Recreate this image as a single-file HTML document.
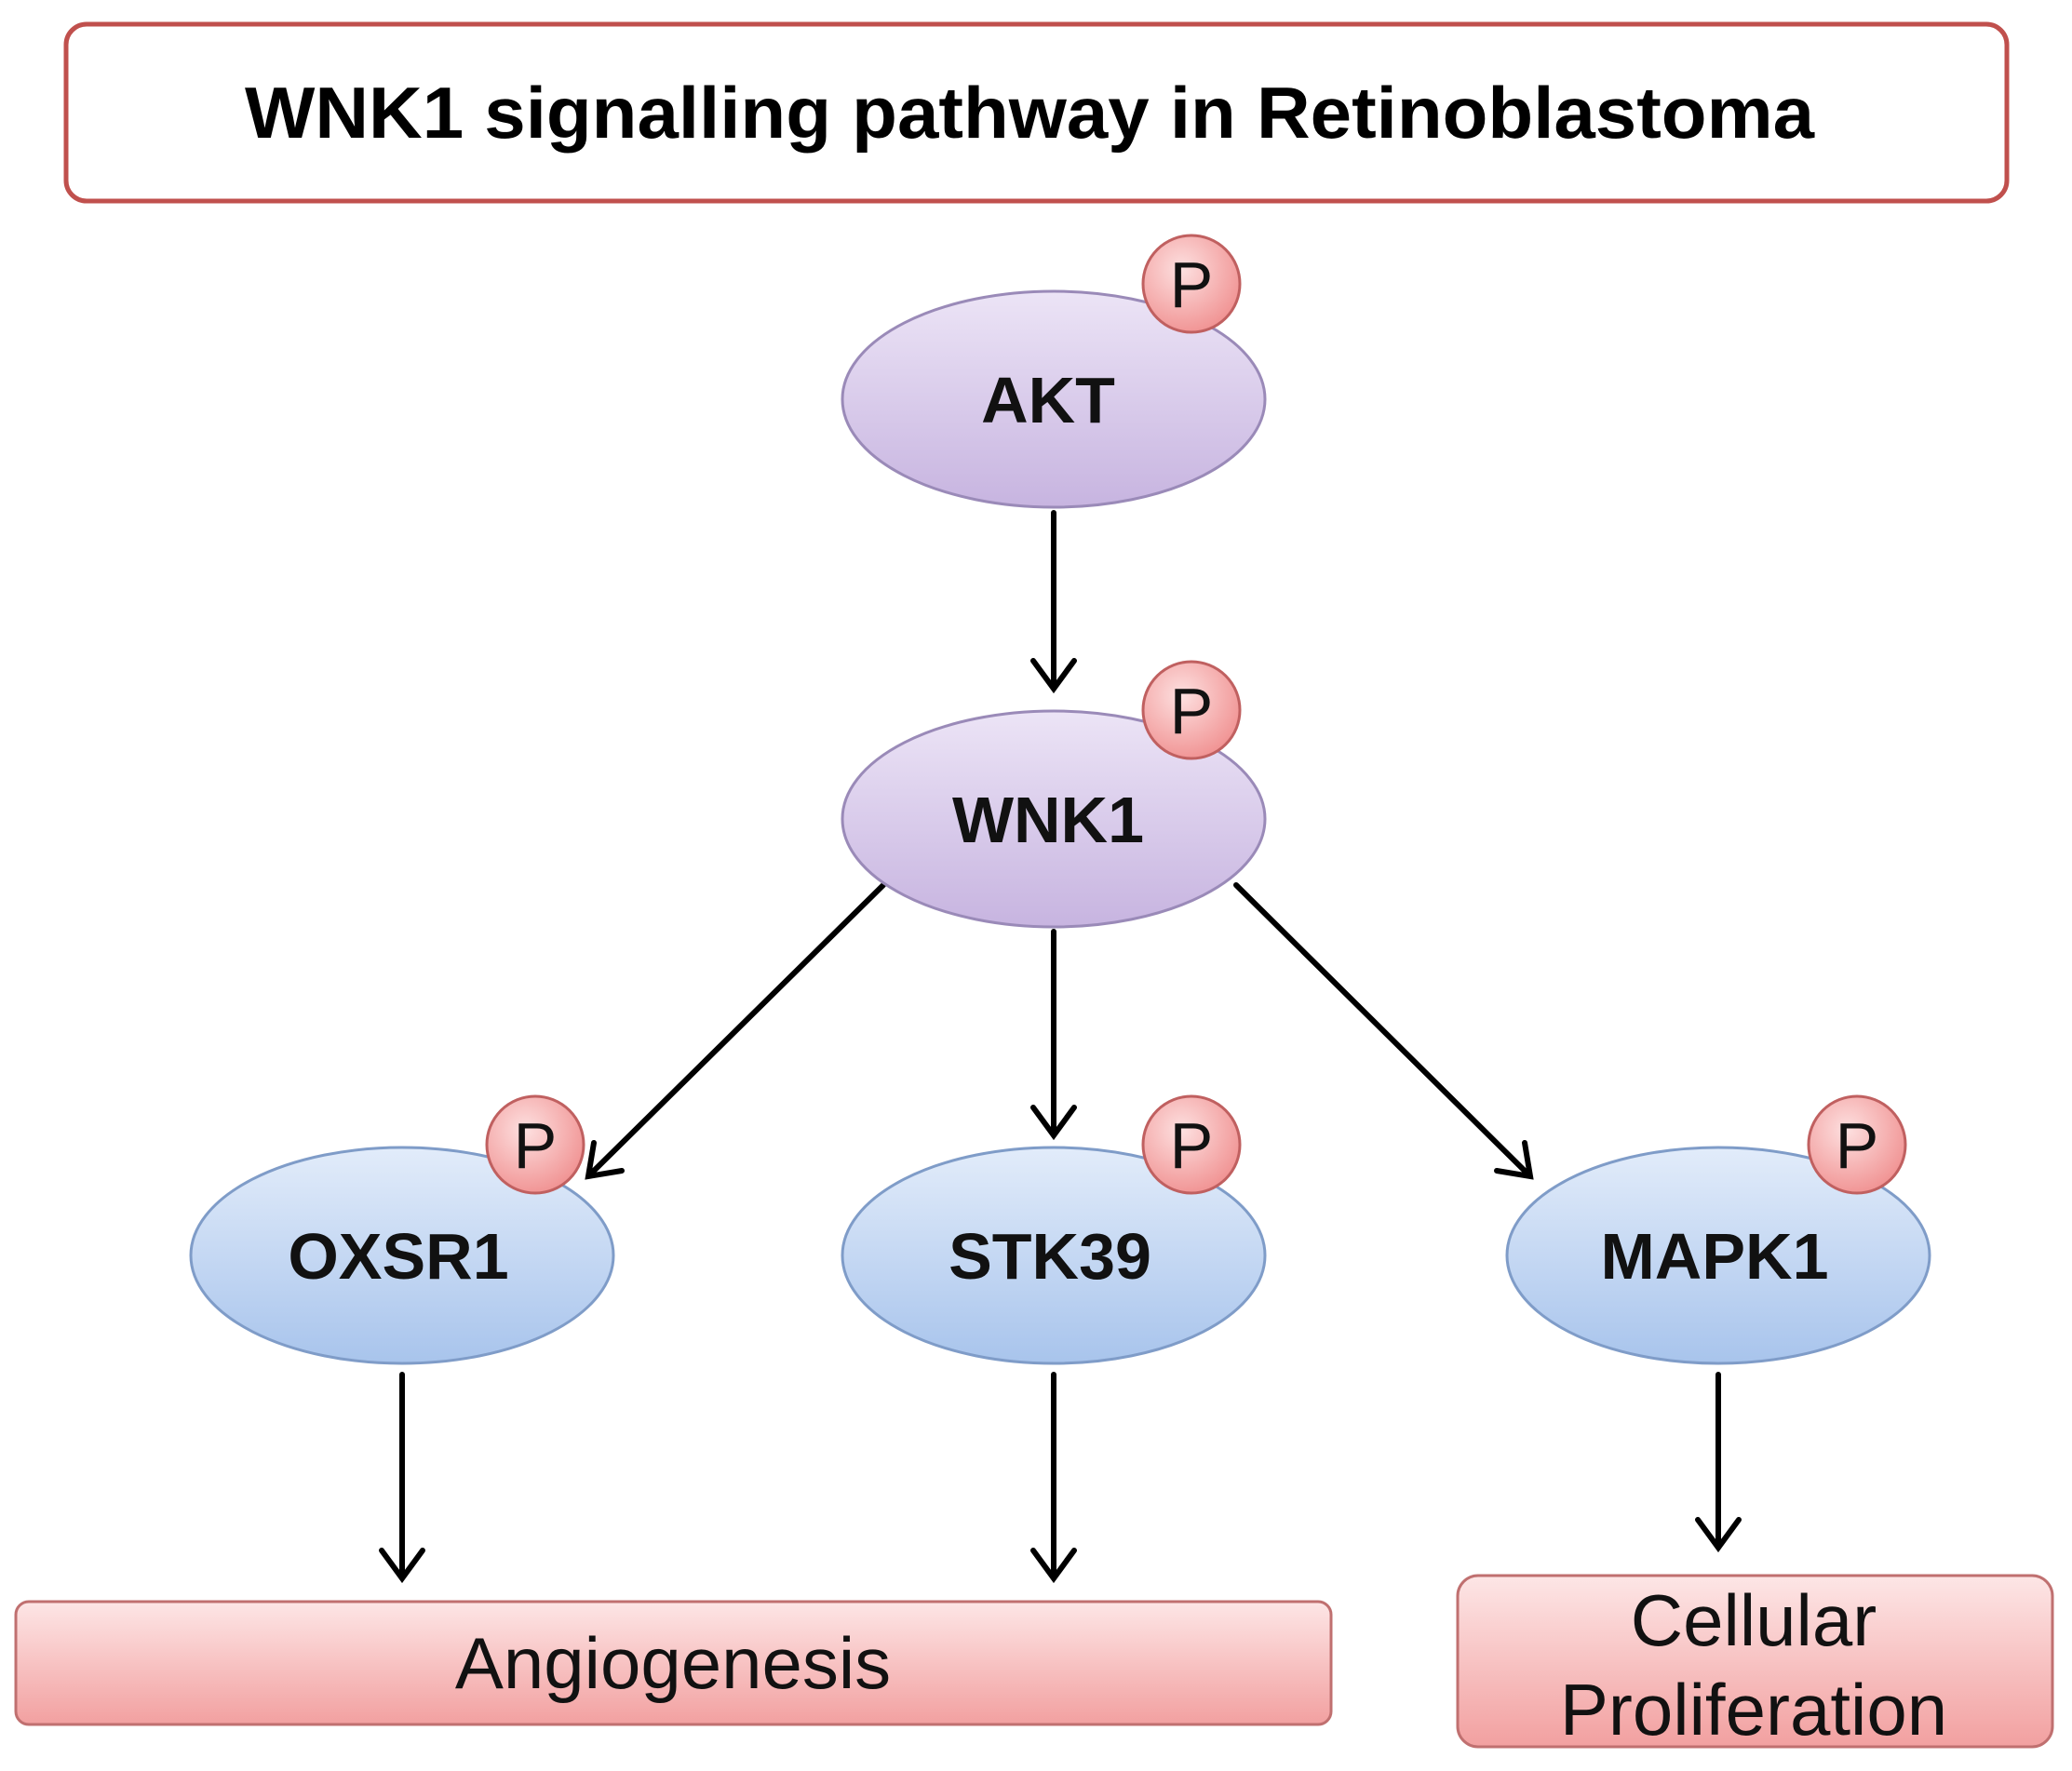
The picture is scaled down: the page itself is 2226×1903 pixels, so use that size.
<!DOCTYPE html>
<html><head><meta charset="utf-8"><style>body{margin:0;background:#fff}svg{display:block}</style></head><body>
<svg width="2226" height="1903" viewBox="0 0 2226 1903" xmlns="http://www.w3.org/2000/svg" font-family="Liberation Sans, Arial, sans-serif">
<defs>
<linearGradient id="pu" x1="0" y1="0" x2="0" y2="1"><stop offset="0" stop-color="#ece4f6"/><stop offset="1" stop-color="#c7b4e0"/></linearGradient>
<linearGradient id="bl" x1="0" y1="0" x2="0" y2="1"><stop offset="0" stop-color="#e2ecfa"/><stop offset="1" stop-color="#a8c4ec"/></linearGradient>
<linearGradient id="pk" x1="0" y1="0" x2="0" y2="1"><stop offset="0" stop-color="#fde6e6"/><stop offset="1" stop-color="#f2a0a0"/></linearGradient>
<radialGradient id="pc" cx="0.4" cy="0.35" r="0.7"><stop offset="0" stop-color="#fde0e0"/><stop offset="1" stop-color="#f09090"/></radialGradient>
</defs>
<rect x="71" y="26" width="2085" height="190" rx="22" fill="#fff" stroke="#c0504d" stroke-width="5"/>
<text x="263" y="148" font-size="78" font-weight="bold" textLength="1686" lengthAdjust="spacingAndGlyphs">WNK1 signalling pathway in Retinoblastoma</text>

<g stroke="#000" stroke-width="6" fill="none" stroke-linecap="round">
<line x1="1132" y1="551" x2="1132" y2="738"/><polyline points="1110,710 1132,740 1154,710"/>
<line x1="949" y1="951" x2="634" y2="1262"/><polyline points="638,1228 632,1264 668,1258"/>
<line x1="1132" y1="1001" x2="1132" y2="1218"/><polyline points="1110,1190 1132,1220 1154,1190"/>
<line x1="1328" y1="951" x2="1642" y2="1262"/><polyline points="1608,1258 1644,1264 1638,1228"/>
<line x1="432" y1="1477" x2="432" y2="1694"/><polyline points="410,1666 432,1696 454,1666"/>
<line x1="1132" y1="1477" x2="1132" y2="1694"/><polyline points="1110,1666 1132,1696 1154,1666"/>
<line x1="1846" y1="1477" x2="1846" y2="1661"/><polyline points="1824,1633 1846,1663 1868,1633"/>
</g>

<g stroke="#9a8ab8" stroke-width="3">
<ellipse cx="1132" cy="429" rx="227" ry="116" fill="url(#pu)"/>
<ellipse cx="1132" cy="880" rx="227" ry="116" fill="url(#pu)"/>
</g>
<g stroke="#7f9cc8" stroke-width="3">
<ellipse cx="432" cy="1349" rx="227" ry="116" fill="url(#bl)"/>
<ellipse cx="1132" cy="1349" rx="227" ry="116" fill="url(#bl)"/>
<ellipse cx="1846" cy="1349" rx="227" ry="116" fill="url(#bl)"/>
</g>
<g font-size="70" font-weight="bold" text-anchor="middle" fill="#111">
<text x="1126" y="454">AKT</text>
<text x="1126" y="905">WNK1</text>
<text x="428" y="1374">OXSR1</text>
<text x="1128" y="1374">STK39</text>
<text x="1842" y="1374">MAPK1</text>
</g>
<g stroke="#c06060" stroke-width="3" fill="url(#pc)">
<circle cx="1280" cy="305" r="52"/><circle cx="1280" cy="763" r="52"/>
<circle cx="575" cy="1230" r="52"/><circle cx="1280" cy="1230" r="52"/><circle cx="1995" cy="1230" r="52"/>
</g>
<g font-size="70" text-anchor="middle" fill="#111">
<text x="1280" y="330">P</text><text x="1280" y="788">P</text>
<text x="575" y="1255">P</text><text x="1280" y="1255">P</text><text x="1995" y="1255">P</text>
</g>
<rect x="17" y="1721" width="1413" height="132" rx="14" fill="url(#pk)" stroke="#c07070" stroke-width="3"/>
<text x="723" y="1814" font-size="78" text-anchor="middle" fill="#111">Angiogenesis</text>
<rect x="1566" y="1693" width="639" height="184" rx="22" fill="url(#pk)" stroke="#c07070" stroke-width="3"/>
<text x="1884" y="1768" font-size="78" text-anchor="middle" fill="#111">Cellular</text>
<text x="1884" y="1864" font-size="78" text-anchor="middle" fill="#111">Proliferation</text>
</svg>
</body></html>
